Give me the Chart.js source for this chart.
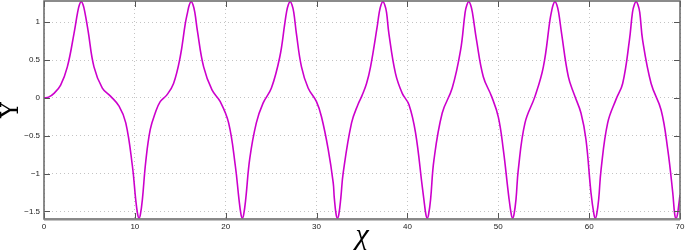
<!DOCTYPE html>
<html>
<head>
<meta charset="utf-8">
<script src="https://cdn.jsdelivr.net/npm/chart.js@4.4.1/dist/chart.umd.min.js"></script>
<style>
  html, body { margin: 0; padding: 0; background: #fff; }
  #wrap { width: 685px; height: 251px; }
</style>
</head>
<body>
<div id="wrap"><canvas id="myChart"></canvas></div>
<script>
// values (one line per half swing)
const chi = [
  0, 0.5, 1.1, 1.83, 2.57, 3.3, 3.7, 3.9, 4.1,
  4.3, 4.5, 4.85, 5.5, 6.42, 7.34, 8.26, 9.0, 9.73, 10.09, 10.31, 10.46,
  10.61, 10.83, 11.2, 11.69, 12.24, 12.79, 13.53, 14.26, 14.99, 15.55, 15.8, 16.0, 16.2,
  16.4, 16.6, 16.88, 17.57, 18.49, 19.4, 20.32, 21.06, 21.46, 21.68, 21.83,
  21.98, 22.2, 22.65, 23.37, 24.11, 25.03, 25.95, 26.5, 26.69, 26.89, 27.09,
  27.29, 27.49, 27.78, 28.34, 29.07, 29.99, 30.54, 31.28, 31.83, 31.95, 32.15, 32.3,
  32.45, 32.67, 32.93, 33.85, 34.58, 35.0, 35.5, 35.94, 36.67, 36.9, 37.1, 37.3,
  37.5, 37.7, 37.96, 38.69, 39.43, 40.17, 40.89, 41.63, 41.81, 42.03, 42.18,
  42.33, 42.55, 42.92, 43.83, 44.93, 45.85, 46.35, 46.55, 46.75,
  46.95, 47.15, 47.61, 48.35, 49.26, 50.0, 50.55, 51.15, 51.43, 51.58,
  51.73, 51.95, 52.2, 52.94, 54.04, 54.96, 55.69, 55.84, 56.04, 56.24,
  56.44, 56.64, 56.97, 57.71, 58.37, 59.1, 59.65, 60.2, 60.53, 60.68,
  60.83, 61.05, 61.31, 62.04, 62.96, 63.69, 64.43, 64.77, 64.97, 65.17,
  65.37, 65.57, 65.89, 66.82, 67.92, 68.65, 69.2, 69.42, 69.57,
  69.72, 69.94, 70.0
];
const upsilon = [
  0, 0.01, 0.06, 0.17, 0.41, 0.85, 1.13, 1.23, 1.27,
  1.23, 1.13, 0.89, 0.41, 0.13, 0.02, -0.11, -0.33, -0.9, -1.34, -1.54, -1.59,
  -1.54, -1.34, -0.84, -0.42, -0.2, -0.05, 0.04, 0.19, 0.54, 0.98, 1.13, 1.23, 1.27,
  1.23, 1.13, 0.89, 0.41, 0.105, -0.05, -0.33, -0.9, -1.34, -1.54, -1.59,
  -1.54, -1.34, -0.8, -0.33, -0.07, 0.13, 0.54, 0.98, 1.13, 1.23, 1.27,
  1.23, 1.13, 0.85, 0.41, 0.13, -0.05, -0.25, -0.68, -1.12, -1.32, -1.54, -1.59,
  -1.54, -1.32, -0.99, -0.33, -0.08, 0.03, 0.19, 0.41, 0.94, 1.13, 1.23, 1.27,
  1.23, 1.13, 0.85, 0.32, 0.06, -0.09, -0.46, -1.17, -1.34, -1.54, -1.59,
  -1.54, -1.34, -0.82, -0.2, 0.13, 0.63, 1.13, 1.23, 1.27,
  1.23, 1.13, 0.76, 0.28, 0.02, -0.25, -0.68, -1.3, -1.54, -1.59,
  -1.54, -1.34, -0.95, -0.33, 0.02, 0.41, 1.03, 1.13, 1.23, 1.27,
  1.23, 1.13, 0.85, 0.28, 0.04, -0.2, -0.55, -1.25, -1.54, -1.59,
  -1.54, -1.34, -0.95, -0.33, -0.02, 0.19, 0.76, 1.13, 1.23, 1.27,
  1.23, 1.13, 0.76, 0.19, -0.16, -0.68, -1.25, -1.54, -1.59,
  -1.54, -1.34, -1.28
];
const xTicks = [0, 10, 20, 30, 40, 50, 60, 70];
const yTicks = [-1.5, -1, -0.5, 0, 0.5, 1];

function minus(v) {
  return String(v).replace('-', '\u2212');
}

// matlab style box with short inward ticks
const boxPlugin = {
  id: 'box',
  afterDraw(chart) {
    const c = chart.ctx, a = chart.chartArea;
    const xs = chart.scales.x, ys = chart.scales.y;
    c.save();
    c.strokeStyle = '#555';
    c.lineWidth = 1;
    c.beginPath();
    xTicks.forEach(function (t) {
      const px = Math.round(xs.getPixelForValue(t)) + 0.5;
      c.moveTo(px, a.bottom); c.lineTo(px, a.bottom - 6);
      c.moveTo(px, a.top); c.lineTo(px, a.top + 6);
    });
    yTicks.forEach(function (t) {
      const py = Math.round(ys.getPixelForValue(t)) + 0.5;
      c.moveTo(a.left, py); c.lineTo(a.left + 6, py);
      c.moveTo(a.right, py); c.lineTo(a.right - 6, py);
    });
    c.stroke();
    c.strokeStyle = '#666';
    c.lineWidth = 1.5;
    c.strokeRect(a.left, a.top, a.right - a.left, a.bottom - a.top);
    c.strokeStyle = '#888';
    c.lineWidth = 2;
    c.beginPath();
    c.moveTo(a.left, a.bottom + 0.5); c.lineTo(a.right, a.bottom + 0.5);
    c.stroke();
    c.restore();
  }
};

const ctx = document.getElementById('myChart');

new Chart(ctx, {
  type: 'scatter',
  data: {
    datasets: [{
      data: chi.map(function (x, i) { return { x: x, y: upsilon[i] }; }),
      showLine: true,
      borderColor: '#cc00cc',
      borderWidth: 1.6,
      pointRadius: 0,
      tension: 0.4
    }]
  },
  options: {
    responsive: true,
    maintainAspectRatio: false,
    animation: false,
    devicePixelRatio: 1,
    layout: { padding: { top: 1, right: 5, left: 0, bottom: 0 } },
    plugins: { legend: { display: false }, tooltip: { enabled: false } },
    scales: {
      x: {
        type: 'linear',
        min: 0,
        max: 70,
        afterBuildTicks: function (s) { s.ticks = xTicks.map(function (v) { return { value: v }; }); },
        afterFit: function (s) { s.height = 32; s.paddingLeft = 0; s.paddingRight = 0; },
        ticks: {
          padding: 3,
          maxRotation: 0,
          color: '#222',
          font: { family: 'Liberation Sans', size: 8 },
          callback: function (v) { return minus(v); }
        },
        grid: { color: '#c4c4c4', lineWidth: 1, drawTicks: false },
        border: { display: false, dash: [1, 3] },
        title: {
          display: true,
          text: 'χ',
          color: '#000',
          padding: 0,
          font: { family: 'Liberation Serif', size: 30, style: 'italic', lineHeight: 1 }
        }
      },
      y: {
        type: 'linear',
        min: -1.6,
        max: 1.28,
        afterBuildTicks: function (s) { s.ticks = yTicks.map(function (v) { return { value: v }; }); },
        afterFit: function (s) { s.width = 44; s.paddingTop = 0; s.paddingBottom = 0; },
        ticks: {
          padding: 4,
          color: '#222',
          font: { family: 'Liberation Sans', size: 8 },
          callback: function (v) { return minus(v); }
        },
        grid: { color: '#c4c4c4', lineWidth: 1, drawTicks: false },
        border: { display: false, dash: [1, 3] },
        title: {
          display: true,
          text: 'Υ',
          color: '#000',
          padding: 0,
          font: { family: 'DejaVu Serif', size: 24, lineHeight: 1 }
        }
      }
    }
  },
  plugins: [boxPlugin]
});
</script>
</body>
</html>
